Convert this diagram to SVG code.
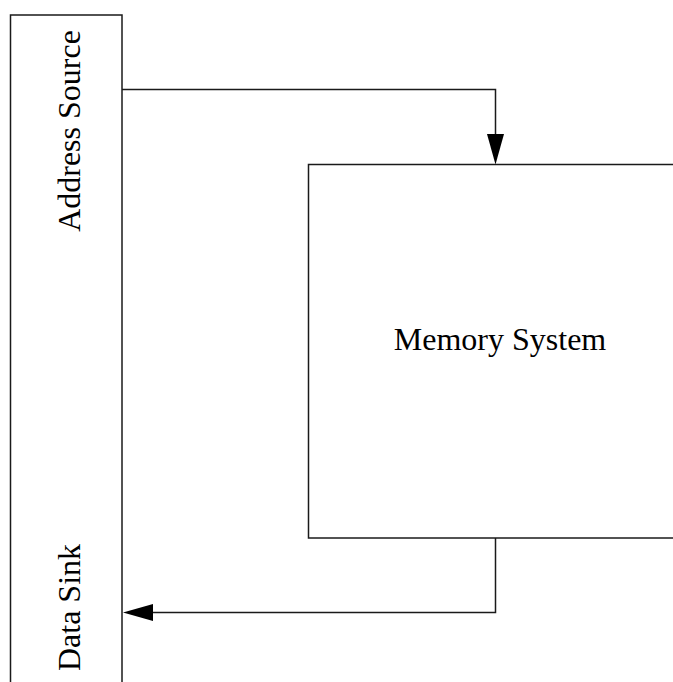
<svg xmlns="http://www.w3.org/2000/svg" width="673" height="682" viewBox="0 0 673 682">
<style>
.box{fill:#fff;stroke:#1a1a1a;stroke-width:1.5}
.line{fill:none;stroke:#1a1a1a;stroke-width:1.5}
.head{fill:#000;stroke:none}
text{font-family:"Liberation Serif","Times New Roman",serif;font-size:32px;fill:#000}
</style>
<rect width="673" height="682" fill="#fff"/>
<g id="source-sink">
<rect class="box" x="10.5" y="15" width="111.5" height="700"/>
<text transform="translate(80,131) rotate(-90)" text-anchor="middle">Address Source</text>
<text transform="translate(80,607.5) rotate(-90)" text-anchor="middle">Data Sink</text>
</g>
<g id="memory">
<rect class="box" x="308.5" y="164.5" width="400" height="373.5"/>
<text x="500" y="349.5" text-anchor="middle">Memory System</text>
</g>
<g id="connectors">
<path class="line" d="M122,89.5 H495.5 V135"/>
<polygon class="head" points="487,134 504,134 495.5,164.5"/>
<path class="line" d="M495.5,538 V612.5 H152"/>
<polygon class="head" points="153,604 153,621 123,612.5"/>
</g>
</svg>
